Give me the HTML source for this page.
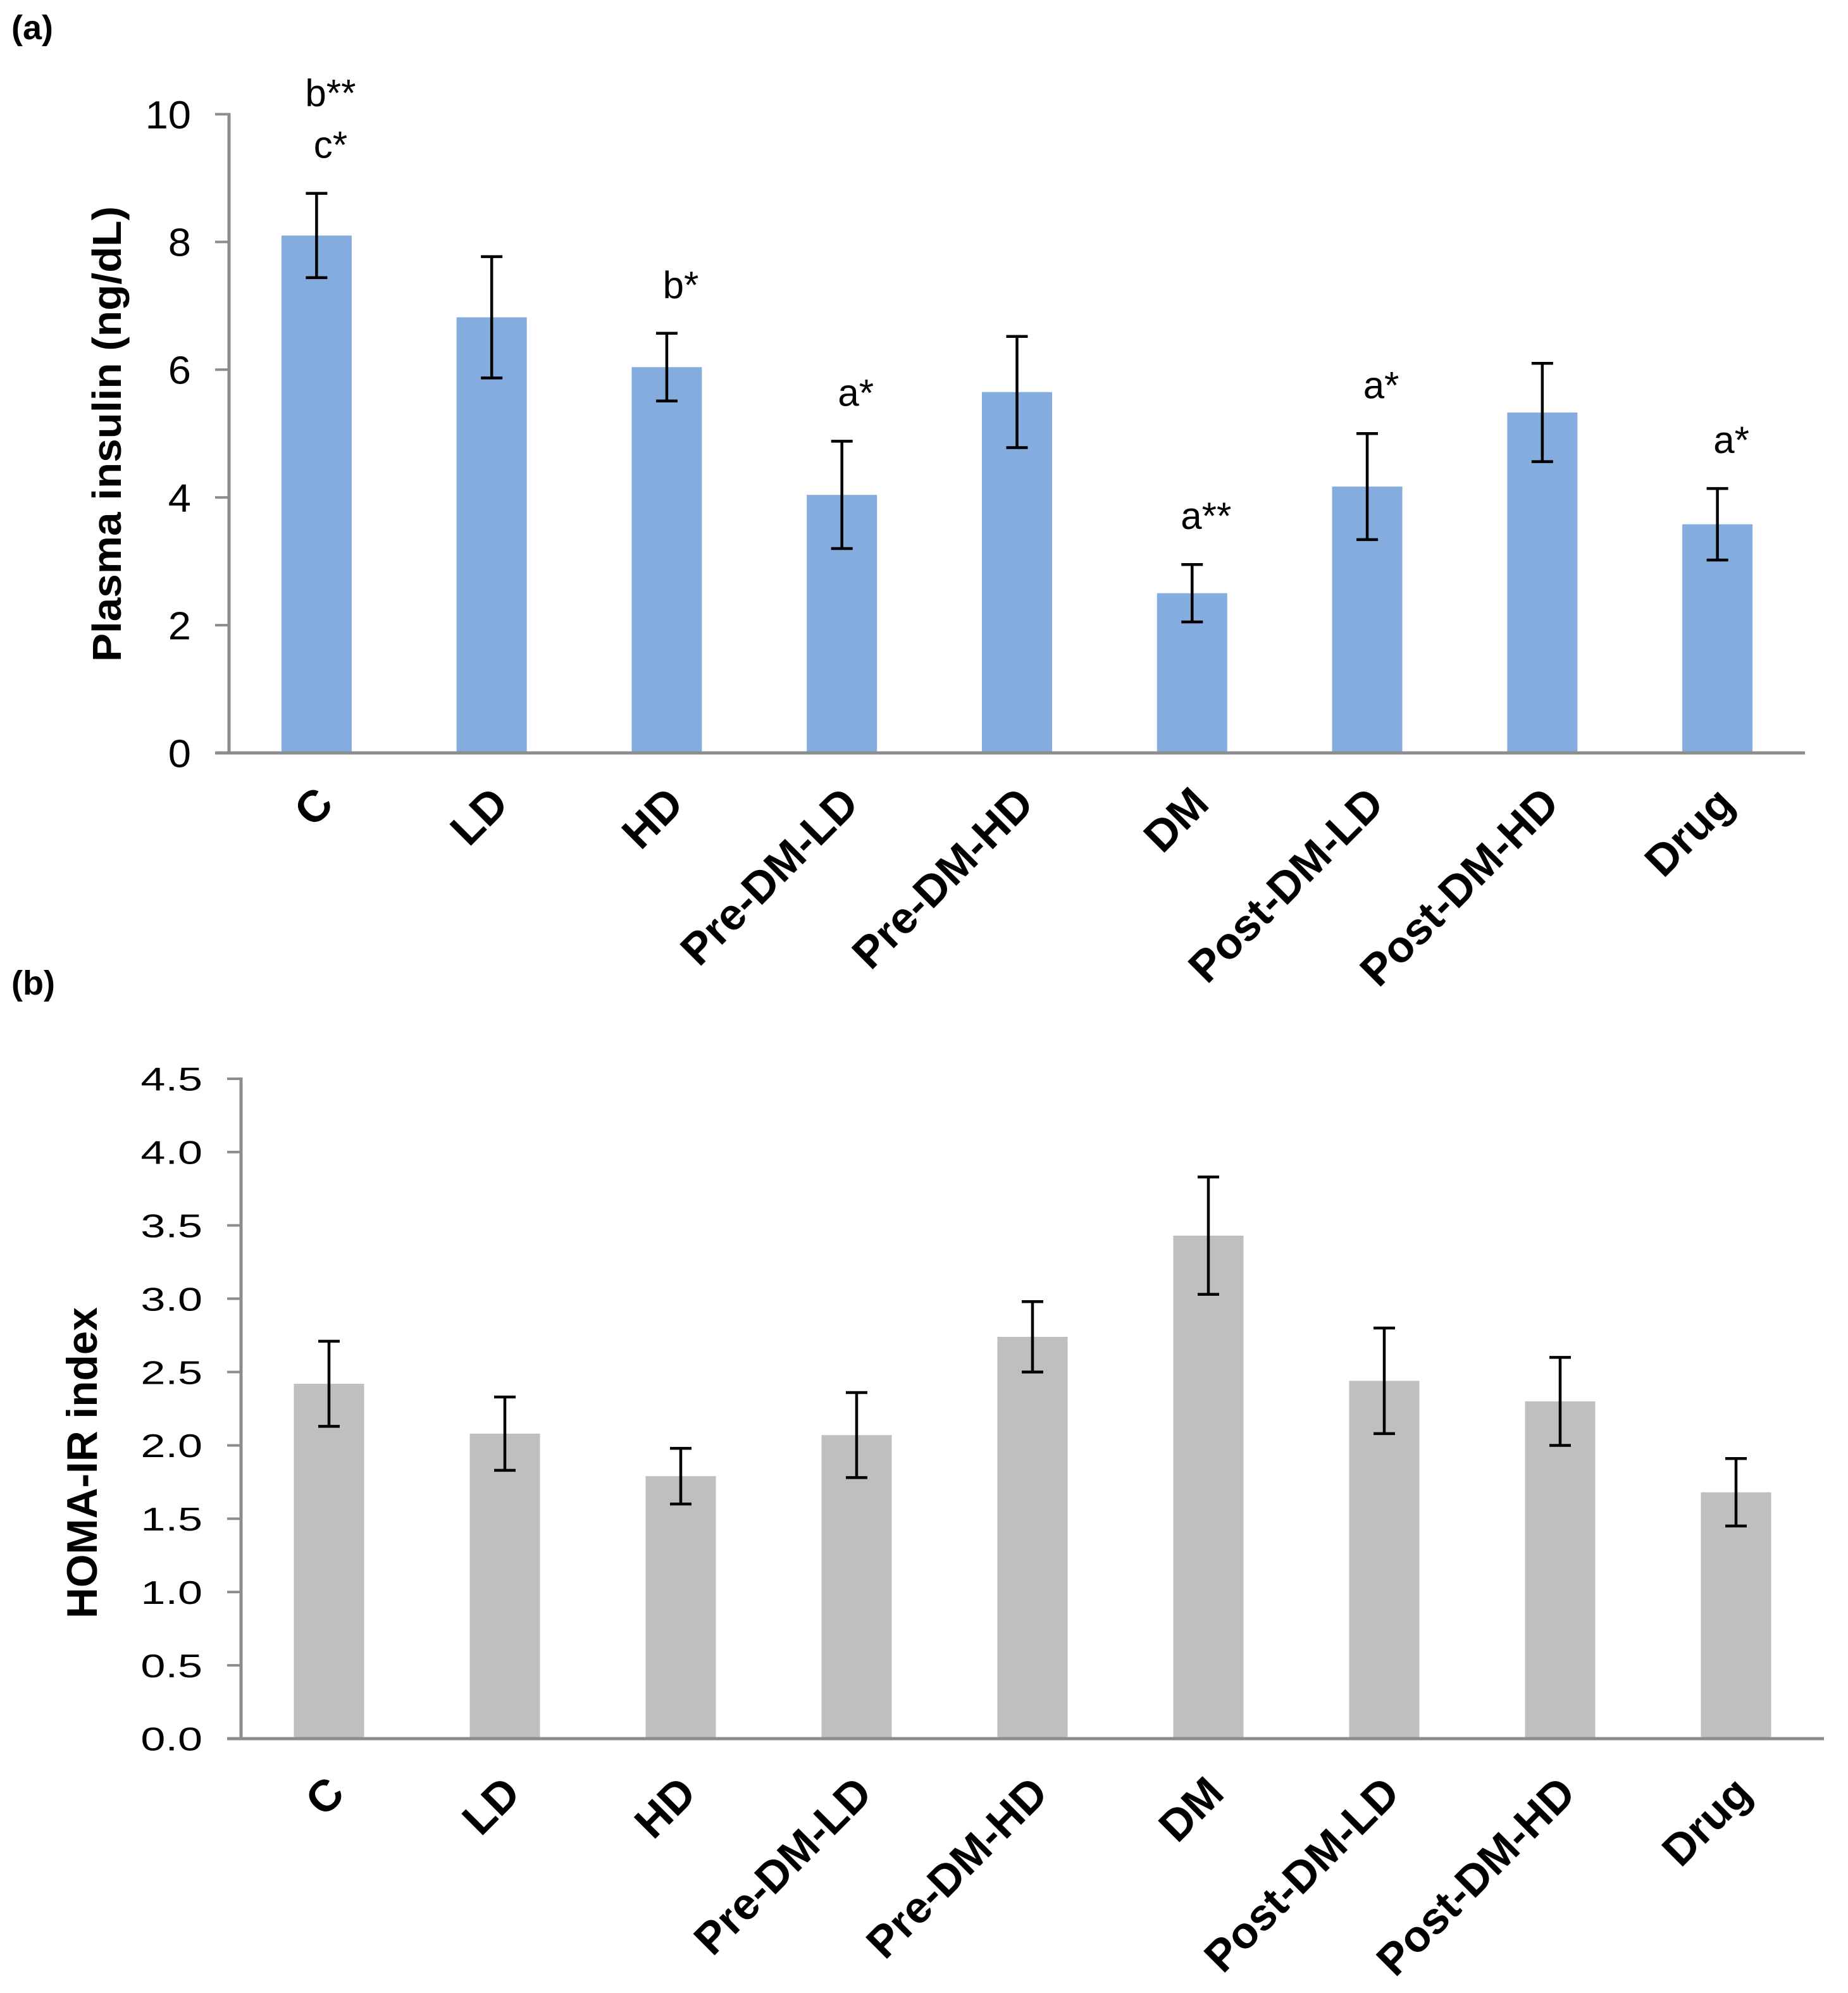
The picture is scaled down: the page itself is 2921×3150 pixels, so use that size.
<!DOCTYPE html>
<html><head><meta charset="utf-8"><style>
html,body{margin:0;padding:0;background:#fff;}
svg{display:block;font-family:"Liberation Sans",Arial,sans-serif;}
</style></head><body>
<svg id="fig" width="2921" height="3150" viewBox="0 0 2921 3150" xmlns="http://www.w3.org/2000/svg">
<rect width="2921" height="3150" fill="#fff"/>
<text x="18" y="62" font-size="54" font-weight="bold">(a)</text>
<text x="18" y="1572" font-size="54" font-weight="bold">(b)</text>
<g id="chartA"></g>
<g id="chartB"></g>
</svg>
<script>
const categories = ["C","LD","HD","Pre-DM-LD","Pre-DM-HD","DM","Post-DM-LD","Post-DM-HD","Drug"];
const insulinValues = [8.1,6.82,6.04,4.04,5.65,2.5,4.17,5.33,3.58];
const insulinErrors = [0.66,0.95,0.53,0.84,0.87,0.45,0.83,0.77,0.56];
const insulinTicks = [0,2,4,6,8,10];
const insulinAnnotations = [["b**","c*"],[],["b*"],["a*"],[],["a**"],["a*"],[],["a*"]];
const homaValues = [2.42,2.08,1.79,2.07,2.74,3.43,2.44,2.3,1.68];
const homaErrors = [0.29,0.25,0.19,0.29,0.24,0.4,0.36,0.3,0.23];
const homaTicks = ["0.0","0.5","1.0","1.5","2.0","2.5","3.0","3.5","4.0","4.5"];

const NS = "http://www.w3.org/2000/svg";
function mk(parent, tag, attrs, txt){
  const e = document.createElementNS(NS, tag);
  for (const k in attrs) e.setAttribute(k, attrs[k]);
  if (txt !== undefined) e.textContent = txt;
  parent.appendChild(e);
  return e;
}

function drawChart(g, cfg){
  const yScale = v => cfg.y0 - (v - cfg.min) / (cfg.max - cfg.min) * (cfg.y0 - cfg.yTop);
  const band = (cfg.right - cfg.axisX) / categories.length;
  const xScale = i => cfg.axisX + band * (i + 0.5);
  cfg.ticks.forEach(t => {
    const y = yScale(parseFloat(t));
    const tk = mk(g, "line", {x1: cfg.axisX - 22, x2: cfg.axisX, y1: y, y2: y, stroke: "#8c8c8c", "stroke-width": 4});
    
    
    const lb = mk(g, "text", {x: 0, y: 0, "font-size": cfg.tickFont, "text-anchor": "end",
      transform: `translate(${cfg.tickLabelX},${y + cfg.tickFont*0.36}) scale(${cfg.tickSX},1)`}, String(t));
    
    
  });
  cfg.values.forEach((v, i) => {
    const cx = xScale(i);
    const bar = mk(g, "rect", {x: cx - cfg.barW/2, y: yScale(v), width: cfg.barW, height: cfg.y0 - yScale(v), fill: cfg.color});
    
    
  });
  const ya = mk(g, "line", {x1: cfg.axisX, x2: cfg.axisX, y1: cfg.yTop - 2, y2: cfg.y0 + 2, stroke: "#8c8c8c", "stroke-width": 5});
  
  
  const xa = mk(g, "line", {x1: cfg.axisX - 22, x2: cfg.right, y1: cfg.y0, y2: cfg.y0, stroke: "#8c8c8c", "stroke-width": 5});
  
  
  cfg.values.forEach((v, i) => {
    const cx = xScale(i), e = cfg.errors[i];
    const eg = mk(g, "g", {stroke: "#000", "stroke-width": 4.5});
    
    
    mk(eg, "line", {x1: cx, x2: cx, y1: yScale(v + e), y2: yScale(v - e)});
    mk(eg, "line", {x1: cx - 17, x2: cx + 17, y1: yScale(v + e), y2: yScale(v + e)});
    mk(eg, "line", {x1: cx - 17, x2: cx + 17, y1: yScale(v - e), y2: yScale(v - e)});
  });
  if (cfg.annotations) cfg.annotations.forEach((arr, i) => {
    const cx = xScale(i) + 22, top = yScale(cfg.values[i] + cfg.errors[i]);
    arr.forEach((s, j) => {
      const y = top - 56 - (arr.length - 1 - j) * 82;
      const t = mk(g, "text", {x: cx, y: y, "font-size": 60, "text-anchor": "middle"}, s);
      
      
    });
  });
  categories.forEach((c, i) => {
    const ex = xScale(i) + cfg.lblDX, ey = cfg.y0 + cfg.lblDY;
    const t = mk(g, "text", {x: 0, y: 0, "font-size": cfg.lblFont, "font-weight": "bold", "text-anchor": "end",
      transform: `translate(${ex},${ey}) rotate(-45)`}, c);
    
    
  });
  const yt = mk(g, "text", {x: 0, y: 0, "font-size": cfg.titleFont, "font-weight": "bold", "text-anchor": "middle",
    textLength: cfg.titleLen, lengthAdjust: "spacingAndGlyphs",
    transform: `translate(${cfg.titleX},${cfg.titleY}) rotate(-90)`}, cfg.title);
  
  
}

drawChart(document.getElementById("chartA"), {
  values: insulinValues, errors: insulinErrors, ticks: insulinTicks, annotations: insulinAnnotations,
  min: 0, max: 10, y0: 1190, yTop: 180.5, axisX: 362, right: 2853, barW: 111, color: "#84acde",
  tickFont: 62, tickSX: 1.05, tickLabelX: 302,
  lblDX: 30, lblDY: 84, lblFont: 70,
  title: "Plasma insulin (ng/dL)", titleFont: 64, titleLen: 720, titleX: 191, titleY: 686
});
drawChart(document.getElementById("chartB"), {
  values: homaValues, errors: homaErrors, ticks: homaTicks, annotations: null,
  min: 0, max: 4.5, y0: 2748, yTop: 1705, axisX: 381, right: 2883, barW: 111, color: "#bfbfbf",
  tickFont: 52, tickSX: 1.35, tickLabelX: 320,
  lblDX: 28, lblDY: 90, lblFont: 70,
  title: "HOMA-IR index", titleFont: 68, titleLen: 492, titleX: 153, titleY: 2312
});
</script>
</body></html>
